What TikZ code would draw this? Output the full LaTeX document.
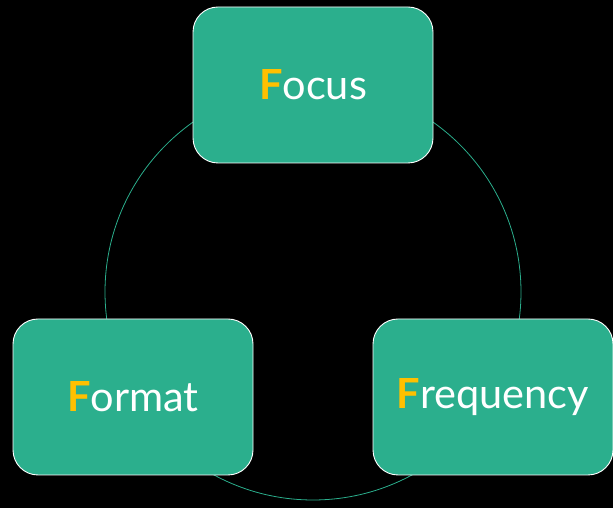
\documentclass[tikz,border=0pt]{standalone}
\usepackage{fontspec}
\setmainfont{Lato}
\definecolor{fteal}{HTML}{2BAF8D}
\definecolor{fgold}{HTML}{FFC000}
\newcommand{\capF}{{\bfseries\color{fgold}F}}

\begin{document}
\begin{tikzpicture}[x=1pt,y=1pt,
    fbox/.style={draw=white,line width=0.9pt,fill=fteal,rounded corners=25pt,
      minimum width=240pt,minimum height=156pt,inner sep=0pt,
      text=white,font=\fontsize{41.5}{48}\selectfont}]
  \fill[black] (0,0) rectangle (613,508);
  \useasboundingbox (0,0) rectangle (613,508);

  \coordinate (C) at (313,216);
  \draw[fteal,line width=0.8pt] (C) circle (208);

  \node[fbox] (FOC) at (313,423) {\capF ocus};
  \node[fbox] (FMT) at (133,111) {\capF ormat};
  \node[fbox] (FRQ) at (493,111) {\capF requency};

\end{tikzpicture}
\end{document}
